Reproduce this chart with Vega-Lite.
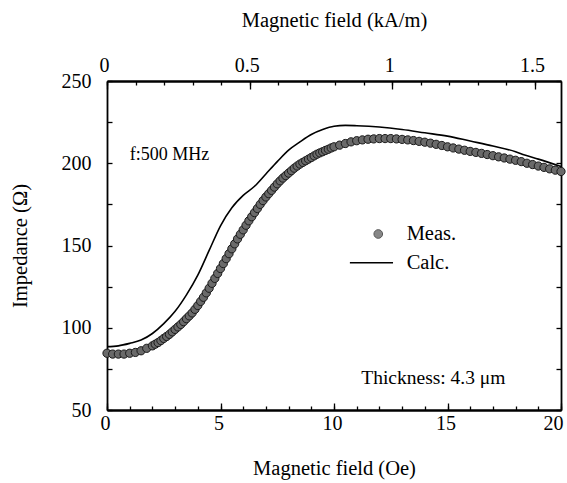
{
  "$schema": "https://vega.github.io/schema/vega-lite/v6.json",
  "width": 454,
  "height": 329,
  "autosize": "none",
  "padding": {"left": 107, "top": 81, "right": 6, "bottom": 73},
  "background": "white",
  "config": {
    "font": "Liberation Serif",
    "view": {"stroke": null},
    "axis": {
      "grid": false,
      "domainColor": "black",
      "domainWidth": 1.8,
      "tickColor": "black",
      "tickWidth": 1.3,
      "labelFont": "Liberation Serif",
      "labelFontSize": 20,
      "labelColor": "black",
      "titleFont": "Liberation Serif",
      "titleFontSize": 20.5,
      "titleFontWeight": "normal",
      "titleColor": "black"
    }
  },
  "datasets": {
    "meas": [
      {"H": 0, "Z": 84.5}, {"H": 0.25, "Z": 84}, {"H": 0.5, "Z": 84}, {"H": 0.75, "Z": 84}, {"H": 1, "Z": 84.5},
      {"H": 1.25, "Z": 85}, {"H": 1.5, "Z": 86}, {"H": 1.75, "Z": 87.5},
      {"H": 2, "Z": 89}, {"H": 2.125, "Z": 90}, {"H": 2.25, "Z": 91}, {"H": 2.375, "Z": 92.2}, {"H": 2.5, "Z": 93.5},
      {"H": 2.625, "Z": 94.7}, {"H": 2.75, "Z": 96}, {"H": 2.875, "Z": 97.5}, {"H": 3, "Z": 99}, {"H": 3.125, "Z": 100.5},
      {"H": 3.25, "Z": 102}, {"H": 3.375, "Z": 103.7}, {"H": 3.5, "Z": 105.5}, {"H": 3.625, "Z": 107.2}, {"H": 3.75, "Z": 109},
      {"H": 3.875, "Z": 111.2}, {"H": 4, "Z": 113.5}, {"H": 4.125, "Z": 116}, {"H": 4.25, "Z": 118.5}, {"H": 4.375, "Z": 121.2},
      {"H": 4.5, "Z": 124}, {"H": 4.625, "Z": 127}, {"H": 4.75, "Z": 130}, {"H": 4.875, "Z": 133}, {"H": 5, "Z": 136},
      {"H": 5.125, "Z": 139}, {"H": 5.25, "Z": 142}, {"H": 5.375, "Z": 145}, {"H": 5.5, "Z": 148}, {"H": 5.625, "Z": 151},
      {"H": 5.75, "Z": 154}, {"H": 5.875, "Z": 156.8}, {"H": 6, "Z": 159.5}, {"H": 6.125, "Z": 162.3}, {"H": 6.25, "Z": 165},
      {"H": 6.375, "Z": 167.5}, {"H": 6.5, "Z": 170}, {"H": 6.625, "Z": 172.5}, {"H": 6.75, "Z": 175}, {"H": 6.875, "Z": 177.3},
      {"H": 7, "Z": 179.5}, {"H": 7.125, "Z": 181.5}, {"H": 7.25, "Z": 183.5}, {"H": 7.375, "Z": 185.5}, {"H": 7.5, "Z": 187.5},
      {"H": 7.625, "Z": 189.3}, {"H": 7.75, "Z": 191}, {"H": 7.875, "Z": 192.5}, {"H": 8, "Z": 194}, {"H": 8.125, "Z": 195.5},
      {"H": 8.25, "Z": 197}, {"H": 8.375, "Z": 198.3}, {"H": 8.5, "Z": 199.5}, {"H": 8.625, "Z": 200.5}, {"H": 8.75, "Z": 201.5},
      {"H": 8.875, "Z": 202.5}, {"H": 9, "Z": 203.5}, {"H": 9.125, "Z": 204.5}, {"H": 9.25, "Z": 205.5}, {"H": 9.375, "Z": 206.3},
      {"H": 9.5, "Z": 207}, {"H": 9.625, "Z": 207.8}, {"H": 9.75, "Z": 208.5}, {"H": 9.875, "Z": 209.3},
      {"H": 10, "Z": 210}, {"H": 10.25, "Z": 211}, {"H": 10.5, "Z": 212}, {"H": 10.75, "Z": 213}, {"H": 11, "Z": 213.7},
      {"H": 11.25, "Z": 214.2}, {"H": 11.5, "Z": 214.6}, {"H": 11.75, "Z": 214.8}, {"H": 12, "Z": 215}, {"H": 12.25, "Z": 215},
      {"H": 12.5, "Z": 215}, {"H": 12.75, "Z": 214.8}, {"H": 13, "Z": 214.5}, {"H": 13.25, "Z": 214.2}, {"H": 13.5, "Z": 213.8},
      {"H": 13.75, "Z": 213.3}, {"H": 14, "Z": 212.8}, {"H": 14.25, "Z": 212.2}, {"H": 14.5, "Z": 211.5}, {"H": 14.75, "Z": 210.8},
      {"H": 15, "Z": 210}, {"H": 15.25, "Z": 209.3}, {"H": 15.5, "Z": 208.6}, {"H": 15.75, "Z": 207.9}, {"H": 16, "Z": 207.2},
      {"H": 16.25, "Z": 206.6}, {"H": 16.5, "Z": 206}, {"H": 16.75, "Z": 205.3}, {"H": 17, "Z": 204.6}, {"H": 17.25, "Z": 203.9},
      {"H": 17.5, "Z": 203.2}, {"H": 17.75, "Z": 202.5}, {"H": 18, "Z": 201.8}, {"H": 18.25, "Z": 201}, {"H": 18.5, "Z": 200},
      {"H": 18.75, "Z": 199.2}, {"H": 19, "Z": 198.3}, {"H": 19.25, "Z": 197.5}, {"H": 19.5, "Z": 196.6}, {"H": 19.75, "Z": 195.8},
      {"H": 20, "Z": 195}
    ],
    "calc": [
      {"H": 0, "Z": 88.5}, {"H": 0.5, "Z": 89}, {"H": 1, "Z": 90.5}, {"H": 1.5, "Z": 92.5}, {"H": 2, "Z": 96.5},
      {"H": 2.5, "Z": 102.5}, {"H": 3, "Z": 110}, {"H": 3.5, "Z": 120}, {"H": 4, "Z": 132}, {"H": 4.5, "Z": 147},
      {"H": 5, "Z": 162}, {"H": 5.5, "Z": 173}, {"H": 6, "Z": 180.5}, {"H": 6.5, "Z": 186}, {"H": 7, "Z": 193.5},
      {"H": 7.5, "Z": 201}, {"H": 8, "Z": 208}, {"H": 8.5, "Z": 213}, {"H": 9, "Z": 217.5}, {"H": 9.5, "Z": 220.5},
      {"H": 10, "Z": 222.5}, {"H": 10.5, "Z": 223}, {"H": 11, "Z": 222.8}, {"H": 12, "Z": 222}, {"H": 13, "Z": 220.5},
      {"H": 14, "Z": 218.5}, {"H": 15, "Z": 216.5}, {"H": 16, "Z": 213.5}, {"H": 17, "Z": 210.5}, {"H": 18, "Z": 207},
      {"H": 18.4, "Z": 205}, {"H": 19, "Z": 202.5}, {"H": 20, "Z": 198}
    ],
    "noteF": [{"H": 1.0, "Z": 205, "text": "f:500 MHz"}],
    "noteT": [{"H": 11.2, "Z": 69.5, "text": "Thickness: 4.3 μm"}],
    "noteL": [{"H": 13.2, "Z": 157, "text": "Meas."}, {"H": 13.2, "Z": 139.5, "text": "Calc."}],
    "legendDot": [{"H": 11.95, "Z": 157}],
    "legendLine": [{"H": 10.7, "H2": 12.6, "Z": 139.5}],
    "kamMajor": [{"k": 0}, {"k": 0.5}, {"k": 1.0}, {"k": 1.5}],
    "kamMinor": [
      {"k": 0}, {"k": 0.1}, {"k": 0.2}, {"k": 0.3}, {"k": 0.4}, {"k": 0.5}, {"k": 0.6}, {"k": 0.7},
      {"k": 0.8}, {"k": 0.9}, {"k": 1.0}, {"k": 1.1}, {"k": 1.2}, {"k": 1.3}, {"k": 1.4}, {"k": 1.5}
    ]
  },
  "layer": [
    {
      "layer": [
        {
          "data": {"name": "meas"},
          "mark": {"type": "point", "shape": "circle", "filled": true, "size": 68, "fill": "#6a6a6a", "stroke": "#1a1a1a", "strokeWidth": 1, "opacity": 1},
          "encoding": {
            "x": {
              "field": "H", "type": "quantitative",
              "scale": {"domain": [0, 20], "nice": false},
              "axis": {
                "orient": "bottom",
                "values": [0, 5, 10, 15, 20],
                "tickSize": -7,
                "labelPadding": 10,
                "labelFlush": false,
                "labelAlign": {"condition": {"test": "datum.value === 20", "value": "right"}, "value": "center"},
                "labelOffset": {"condition": {"test": "datum.value === 20", "value": 2}, "value": -2},
                "title": "Magnetic field (Oe)",
                "titlePadding": 25
              }
            },
            "y": {
              "field": "Z", "type": "quantitative",
              "scale": {"domain": [50, 250], "nice": false, "zero": false},
              "axis": {
                "orient": "left",
                "values": [50, 75, 100, 125, 150, 175, 200, 225, 250],
                "labelExpr": "datum.value % 50 === 0 ? datum.label : ''",
                "tickSize": -5,
                "labelPadding": 21,
                "labelFlush": false,
                "title": "Impedance (Ω)",
                "titlePadding": 31
              }
            }
          }
        },
        {
          "data": {"name": "calc"},
          "mark": {"type": "line", "color": "black", "strokeWidth": 1.6, "interpolate": "monotone"},
          "encoding": {
            "x": {
              "field": "H", "type": "quantitative",
              "axis": {
                "orient": "bottom",
                "values": [0,1,2,3,4,5,6,7,8,9,10,11,12,13,14,15,16,17,18,19,20],
                "tickSize": -4,
                "labels": false,
                "title": null
              }
            },
            "y": {
              "field": "Z", "type": "quantitative",
              "axis": {
                "orient": "right",
                "values": [50, 75, 100, 125, 150, 175, 200, 225, 250],
                "labels": false,
                "tickSize": -5,
                "title": null
              }
            }
          }
        },
        {
          "data": {"name": "legendDot"},
          "mark": {"type": "point", "shape": "circle", "filled": true, "size": 75, "fill": "#555555", "stroke": "#111111", "strokeWidth": 1},
          "encoding": {
            "x": {"field": "H", "type": "quantitative", "axis": null},
            "y": {"field": "Z", "type": "quantitative", "axis": null}
          }
        },
        {
          "data": {"name": "legendLine"},
          "mark": {"type": "rule", "color": "black", "strokeWidth": 1.6},
          "encoding": {
            "x": {"field": "H", "type": "quantitative", "axis": null},
            "x2": {"field": "H2"},
            "y": {"field": "Z", "type": "quantitative", "axis": null}
          }
        },
        {
          "data": {"name": "noteF"},
          "mark": {"type": "text", "align": "left", "baseline": "middle", "font": "Liberation Serif", "fontSize": 18, "color": "black"},
          "encoding": {
            "x": {"field": "H", "type": "quantitative", "axis": null},
            "y": {"field": "Z", "type": "quantitative", "axis": null},
            "text": {"field": "text"}
          }
        },
        {
          "data": {"name": "noteT"},
          "mark": {"type": "text", "align": "left", "baseline": "middle", "font": "Liberation Serif", "fontSize": 19.5, "color": "black"},
          "encoding": {
            "x": {"field": "H", "type": "quantitative", "axis": null},
            "y": {"field": "Z", "type": "quantitative", "axis": null},
            "text": {"field": "text"}
          }
        },
        {
          "data": {"name": "noteL"},
          "mark": {"type": "text", "align": "left", "baseline": "middle", "font": "Liberation Serif", "fontSize": 20.5, "color": "black"},
          "encoding": {
            "x": {"field": "H", "type": "quantitative", "axis": null},
            "y": {"field": "Z", "type": "quantitative", "axis": null},
            "text": {"field": "text"}
          }
        }
      ],
      "resolve": {"axis": {"x": "independent", "y": "independent"}}
    },
    {
      "layer": [
        {
          "data": {"name": "kamMajor"},
          "mark": {"type": "point", "opacity": 0},
          "encoding": {
            "x": {
              "field": "k", "type": "quantitative",
              "scale": {"domain": [0, 1.5915494], "nice": false, "zero": false},
              "axis": {
                "orient": "top",
                "values": [0, 0.5, 1, 1.5],
                "format": "~g",
                "tickSize": -8,
                "labelPadding": 14,
                "labelFlush": false,
                "labelOffset": -3,
                "title": "Magnetic field (kA/m)",
                "titlePadding": 25
              }
            }
          }
        },
        {
          "data": {"name": "kamMinor"},
          "mark": {"type": "point", "opacity": 0},
          "encoding": {
            "x": {
              "field": "k", "type": "quantitative",
              "axis": {
                "orient": "top",
                "values": [0, 0.1, 0.2, 0.3, 0.4, 0.5, 0.6, 0.7, 0.8, 0.9, 1.0, 1.1, 1.2, 1.3, 1.4, 1.5],
                "tickSize": -4,
                "labels": false,
                "title": null
              }
            }
          }
        }
      ],
      "resolve": {"axis": {"x": "independent"}}
    }
  ],
  "resolve": {"scale": {"x": "independent"}, "axis": {"x": "independent"}}
}
